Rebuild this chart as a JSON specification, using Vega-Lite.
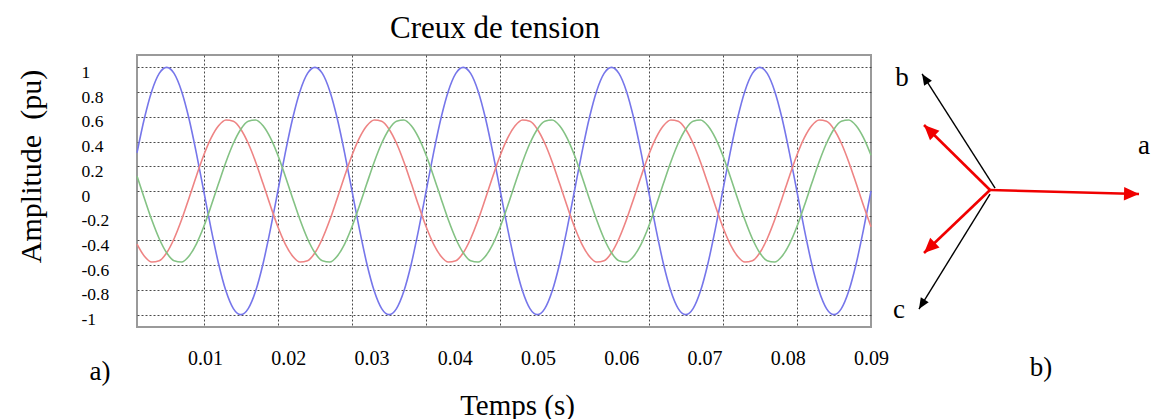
{
  "$schema": "https://vega.github.io/schema/vega-lite/v6.json",
  "background": "white",
  "padding": {"left": 14, "top": 12, "right": 0, "bottom": 0},
  "bounds": "flush",
  "spacing": 11,
  "config": {
    "view": {"stroke": null},
    "font": "Liberation Serif",
    "text": {"font": "Liberation Serif", "color": "black"}
  },
  "hconcat": [
    {
      "width": 734,
      "height": 272,
      "view": {"stroke": "#9a9a9a", "strokeWidth": 2},
      "title": {
        "text": "Creux de tension",
        "font": "Liberation Serif",
        "fontSize": 31,
        "fontWeight": "normal",
        "color": "black",
        "anchor": "middle",
        "baseline": "alphabetic",
        "offset": -14,
        "dx": -9
      },
      "layer": [
        {
          "data": {
            "values": [
              {"t": 0.001, "a": 0.309, "b": -0.429, "c": 0.12},
              {"t": 0.002, "a": 0.588, "b": -0.527, "c": -0.06},
              {"t": 0.003, "a": 0.809, "b": -0.574, "c": -0.235},
              {"t": 0.004, "a": 0.951, "b": -0.564, "c": -0.386},
              {"t": 0.005, "a": 1, "b": -0.5, "c": -0.5},
              {"t": 0.006, "a": 0.951, "b": -0.386, "c": -0.564},
              {"t": 0.007, "a": 0.809, "b": -0.235, "c": -0.574},
              {"t": 0.008, "a": 0.588, "b": -0.06, "c": -0.527},
              {"t": 0.009, "a": 0.309, "b": 0.12, "c": -0.429},
              {"t": 0.010, "a": 0, "b": 0.289, "c": -0.289},
              {"t": 0.011, "a": -0.309, "b": 0.429, "c": -0.12},
              {"t": 0.012, "a": -0.588, "b": 0.527, "c": 0.06},
              {"t": 0.013, "a": -0.809, "b": 0.574, "c": 0.235},
              {"t": 0.014, "a": -0.951, "b": 0.564, "c": 0.386},
              {"t": 0.015, "a": -1, "b": 0.5, "c": 0.5},
              {"t": 0.016, "a": -0.951, "b": 0.386, "c": 0.564},
              {"t": 0.017, "a": -0.809, "b": 0.235, "c": 0.574},
              {"t": 0.018, "a": -0.588, "b": 0.06, "c": 0.527},
              {"t": 0.019, "a": -0.309, "b": -0.12, "c": 0.429},
              {"t": 0.020, "a": 0, "b": -0.289, "c": 0.289},
              {"t": 0.021, "a": 0.309, "b": -0.429, "c": 0.12},
              {"t": 0.022, "a": 0.588, "b": -0.527, "c": -0.06},
              {"t": 0.023, "a": 0.809, "b": -0.574, "c": -0.235},
              {"t": 0.024, "a": 0.951, "b": -0.564, "c": -0.386},
              {"t": 0.025, "a": 1, "b": -0.5, "c": -0.5},
              {"t": 0.026, "a": 0.951, "b": -0.386, "c": -0.564},
              {"t": 0.027, "a": 0.809, "b": -0.235, "c": -0.574},
              {"t": 0.028, "a": 0.588, "b": -0.06, "c": -0.527},
              {"t": 0.029, "a": 0.309, "b": 0.12, "c": -0.429},
              {"t": 0.030, "a": 0, "b": 0.289, "c": -0.289},
              {"t": 0.031, "a": -0.309, "b": 0.429, "c": -0.12},
              {"t": 0.032, "a": -0.588, "b": 0.527, "c": 0.06},
              {"t": 0.033, "a": -0.809, "b": 0.574, "c": 0.235},
              {"t": 0.034, "a": -0.951, "b": 0.564, "c": 0.386},
              {"t": 0.035, "a": -1, "b": 0.5, "c": 0.5},
              {"t": 0.036, "a": -0.951, "b": 0.386, "c": 0.564},
              {"t": 0.037, "a": -0.809, "b": 0.235, "c": 0.574},
              {"t": 0.038, "a": -0.588, "b": 0.06, "c": 0.527},
              {"t": 0.039, "a": -0.309, "b": -0.12, "c": 0.429},
              {"t": 0.040, "a": 0, "b": -0.289, "c": 0.289},
              {"t": 0.041, "a": 0.309, "b": -0.429, "c": 0.12},
              {"t": 0.042, "a": 0.588, "b": -0.527, "c": -0.06},
              {"t": 0.043, "a": 0.809, "b": -0.574, "c": -0.235},
              {"t": 0.044, "a": 0.951, "b": -0.564, "c": -0.386},
              {"t": 0.045, "a": 1, "b": -0.5, "c": -0.5},
              {"t": 0.046, "a": 0.951, "b": -0.386, "c": -0.564},
              {"t": 0.047, "a": 0.809, "b": -0.235, "c": -0.574},
              {"t": 0.048, "a": 0.588, "b": -0.06, "c": -0.527},
              {"t": 0.049, "a": 0.309, "b": 0.12, "c": -0.429},
              {"t": 0.050, "a": 0, "b": 0.289, "c": -0.289},
              {"t": 0.051, "a": -0.309, "b": 0.429, "c": -0.12},
              {"t": 0.052, "a": -0.588, "b": 0.527, "c": 0.06},
              {"t": 0.053, "a": -0.809, "b": 0.574, "c": 0.235},
              {"t": 0.054, "a": -0.951, "b": 0.564, "c": 0.386},
              {"t": 0.055, "a": -1, "b": 0.5, "c": 0.5},
              {"t": 0.056, "a": -0.951, "b": 0.386, "c": 0.564},
              {"t": 0.057, "a": -0.809, "b": 0.235, "c": 0.574},
              {"t": 0.058, "a": -0.588, "b": 0.06, "c": 0.527},
              {"t": 0.059, "a": -0.309, "b": -0.12, "c": 0.429},
              {"t": 0.060, "a": 0, "b": -0.289, "c": 0.289},
              {"t": 0.061, "a": 0.309, "b": -0.429, "c": 0.12},
              {"t": 0.062, "a": 0.588, "b": -0.527, "c": -0.06},
              {"t": 0.063, "a": 0.809, "b": -0.574, "c": -0.235},
              {"t": 0.064, "a": 0.951, "b": -0.564, "c": -0.386},
              {"t": 0.065, "a": 1, "b": -0.5, "c": -0.5},
              {"t": 0.066, "a": 0.951, "b": -0.386, "c": -0.564},
              {"t": 0.067, "a": 0.809, "b": -0.235, "c": -0.574},
              {"t": 0.068, "a": 0.588, "b": -0.06, "c": -0.527},
              {"t": 0.069, "a": 0.309, "b": 0.12, "c": -0.429},
              {"t": 0.070, "a": 0, "b": 0.289, "c": -0.289},
              {"t": 0.071, "a": -0.309, "b": 0.429, "c": -0.12},
              {"t": 0.072, "a": -0.588, "b": 0.527, "c": 0.06},
              {"t": 0.073, "a": -0.809, "b": 0.574, "c": 0.235},
              {"t": 0.074, "a": -0.951, "b": 0.564, "c": 0.386},
              {"t": 0.075, "a": -1, "b": 0.5, "c": 0.5},
              {"t": 0.076, "a": -0.951, "b": 0.386, "c": 0.564},
              {"t": 0.077, "a": -0.809, "b": 0.235, "c": 0.574},
              {"t": 0.078, "a": -0.588, "b": 0.06, "c": 0.527},
              {"t": 0.079, "a": -0.309, "b": -0.12, "c": 0.429},
              {"t": 0.080, "a": 0, "b": -0.289, "c": 0.289},
              {"t": 0.081, "a": 0.309, "b": -0.429, "c": 0.12},
              {"t": 0.082, "a": 0.588, "b": -0.527, "c": -0.06},
              {"t": 0.083, "a": 0.809, "b": -0.574, "c": -0.235},
              {"t": 0.084, "a": 0.951, "b": -0.564, "c": -0.386},
              {"t": 0.085, "a": 1, "b": -0.5, "c": -0.5},
              {"t": 0.086, "a": 0.951, "b": -0.386, "c": -0.564},
              {"t": 0.087, "a": 0.809, "b": -0.235, "c": -0.574},
              {"t": 0.088, "a": 0.588, "b": -0.06, "c": -0.527},
              {"t": 0.089, "a": 0.309, "b": 0.12, "c": -0.429},
              {"t": 0.090, "a": 0, "b": 0.289, "c": -0.289},
              {"t": 0.091, "a": -0.309, "b": 0.429, "c": -0.12},
              {"t": 0.092, "a": -0.588, "b": 0.527, "c": 0.06},
              {"t": 0.093, "a": -0.809, "b": 0.574, "c": 0.235},
              {"t": 0.094, "a": -0.951, "b": 0.564, "c": 0.386},
              {"t": 0.095, "a": -1, "b": 0.5, "c": 0.5},
              {"t": 0.096, "a": -0.951, "b": 0.386, "c": 0.564},
              {"t": 0.097, "a": -0.809, "b": 0.235, "c": 0.574},
              {"t": 0.098, "a": -0.588, "b": 0.06, "c": 0.527},
              {"t": 0.099, "a": -0.309, "b": -0.12, "c": 0.429},
              {"t": 0.100, "a": 0, "b": -0.289, "c": 0.289}
            ]
          },
          "transform": [{"fold": ["a", "b", "c"], "as": ["phase", "v"]}],
          "mark": {"type": "line", "strokeWidth": 1.6, "interpolate": "monotone"},
          "encoding": {
            "x": {
              "field": "t",
              "type": "quantitative",
              "scale": {"domain": [0.001, 0.1], "nice": false, "zero": false},
              "axis": {
                "values": [0.01, 0.02, 0.03, 0.04, 0.05, 0.06, 0.07, 0.08, 0.09],
                "tickCount": 30,
                "format": ".2f",
                "title": "Temps (s)",
                "titleFont": "Liberation Serif",
                "titleFontSize": 29,
                "titleFontWeight": "normal",
                "titleColor": "black",
                "titleX": 380,
                "titleY": 87,
                "titleBaseline": "alphabetic",
                "titleAlign": "center",
                "labelFont": "Liberation Serif",
                "labelFontSize": 20,
                "labelColor": "black",
                "labelBaseline": "alphabetic",
                "labelPadding": 37,
                "labelOffset": {"expr": "911 * datum.value - 7.8"},
                "labelFlush": false,
                "labelOverlap": false,
                "ticks": false,
                "tickSize": 0,
                "domain": false,
                "grid": true,
                "gridColor": "#4a4a4a",
                "gridDash": [2, 2],
                "gridWidth": 1
              }
            },
            "y": {
              "field": "v",
              "type": "quantitative",
              "scale": {"domain": [-1.1, 1.1], "nice": false, "zero": false},
              "axis": {
                "values": [-1, -0.8, -0.6, -0.4, -0.2, 0, 0.2, 0.4, 0.6, 0.8, 1],
                "tickCount": 30,
                "format": "~g",
                "labelExpr": "replace(datum.label, '−', '-')",
                "title": "Amplitude\u00a0 (pu)",
                "titleFont": "Liberation Serif",
                "titleFontSize": 30,
                "titleFontWeight": "normal",
                "titleColor": "black",
                "titleX": -97,
                "titleY": 111,
                "titleBaseline": "alphabetic",
                "titleAlign": "center",
                "labelFont": "Liberation Serif",
                "labelFontSize": 17.5,
                "labelColor": "black",
                "labelAlign": "left",
                "labelBaseline": "middle",
                "labelPadding": 56,
                "labelOffset": 5,
                "labelFlush": false,
                "labelOverlap": false,
                "ticks": false,
                "tickSize": 0,
                "domain": false,
                "grid": true,
                "gridColor": "#4a4a4a",
                "gridDash": [2, 2],
                "gridWidth": 1
              }
            },
            "color": {
              "field": "phase",
              "type": "nominal",
              "scale": {"domain": ["a", "b", "c"], "range": ["#7676ea", "#ee8484", "#84c284"]},
              "legend": null
            }
          }
        },
        {
          "data": {"values": [{"label": "a)"}]},
          "mark": {"type": "text", "font": "Liberation Serif", "fontSize": 27, "align": "center", "baseline": "alphabetic", "color": "black"},
          "encoding": {
            "x": {"datum": -0.004, "type": "quantitative"},
            "y": {"datum": -1.526, "type": "quantitative"},
            "text": {"field": "label"}
          }
        }
      ]
    },
    {
      "width": 274,
      "height": 346,
      "data": {
        "values": [
          {"phasor": "a", "kind": "creux", "x0": 0, "y0": 0, "x": 1.0, "y": -0.027, "phase": -1.5},
          {"phasor": "b", "kind": "creux", "x0": 0, "y0": 0, "x": -0.443, "y": 0.436, "phase": 135.5},
          {"phasor": "c", "kind": "creux", "x0": 0, "y0": 0, "x": -0.443, "y": -0.423, "phase": -136.3},
          {"phasor": "b", "kind": "nominal", "x0": 0.034, "y0": 0.013, "x": -0.456, "y": 0.779, "phase": 122.6},
          {"phasor": "c", "kind": "nominal", "x0": 0, "y0": -0.027, "x": -0.477, "y": -0.799, "phase": -121.7}
        ]
      },
      "layer": [
        {
          "transform": [{"filter": "datum.kind === 'nominal'"}],
          "mark": {"type": "rule", "color": "black", "strokeWidth": 1.4},
          "encoding": {
            "x": {"field": "x0", "type": "quantitative", "scale": {"domain": [-0.725, 1.114], "nice": false, "zero": false}, "axis": null},
            "y": {"field": "y0", "type": "quantitative", "scale": {"domain": [-1.416, 0.906], "nice": false, "zero": false}, "axis": null},
            "x2": {"field": "x"},
            "y2": {"field": "y"}
          }
        },
        {
          "transform": [{"filter": "datum.kind === 'nominal'"}],
          "mark": {"type": "point", "shape": "M0,0L-0.42,1L0.42,1Z", "filled": true, "color": "black", "opacity": 1, "size": 484, "strokeWidth": 0},
          "encoding": {
            "x": {"field": "x", "type": "quantitative", "scale": {"domain": [-0.725, 1.114], "nice": false, "zero": false}, "axis": null},
            "y": {"field": "y", "type": "quantitative", "scale": {"domain": [-1.416, 0.906], "nice": false, "zero": false}, "axis": null},
            "angle": {"field": "phase", "type": "quantitative", "scale": {"domain": [-180, 180], "range": [270, -90]}}
          }
        },
        {
          "transform": [{"filter": "datum.kind === 'creux'"}],
          "mark": {"type": "rule", "color": "#f00000", "strokeWidth": 2.6},
          "encoding": {
            "x": {"field": "x0", "type": "quantitative", "scale": {"domain": [-0.725, 1.114], "nice": false, "zero": false}, "axis": null},
            "y": {"field": "y0", "type": "quantitative", "scale": {"domain": [-1.416, 0.906], "nice": false, "zero": false}, "axis": null},
            "x2": {"field": "x"},
            "y2": {"field": "y"}
          }
        },
        {
          "transform": [{"filter": "datum.kind === 'creux'"}],
          "mark": {"type": "point", "shape": "M0,0L-0.45,1L0.45,1Z", "filled": true, "color": "#f00000", "opacity": 1, "size": 900, "strokeWidth": 0},
          "encoding": {
            "x": {"field": "x", "type": "quantitative", "scale": {"domain": [-0.725, 1.114], "nice": false, "zero": false}, "axis": null},
            "y": {"field": "y", "type": "quantitative", "scale": {"domain": [-1.416, 0.906], "nice": false, "zero": false}, "axis": null},
            "angle": {"field": "phase", "type": "quantitative", "scale": {"domain": [-180, 180], "range": [270, -90]}}
          }
        },
        {
          "data": {
            "values": [
              {"label": "a", "lx": 1.034, "ly": 0.242},
              {"label": "b", "lx": -0.591, "ly": 0.698},
              {"label": "c", "lx": -0.611, "ly": -0.859},
              {"label": "b)", "lx": 0.342, "ly": -1.248}
            ]
          },
          "mark": {"type": "text", "font": "Liberation Serif", "fontSize": 27, "align": "center", "baseline": "alphabetic", "color": "black"},
          "encoding": {
            "x": {"field": "lx", "type": "quantitative", "scale": {"domain": [-0.725, 1.114], "nice": false, "zero": false}, "axis": null},
            "y": {"field": "ly", "type": "quantitative", "scale": {"domain": [-1.416, 0.906], "nice": false, "zero": false}, "axis": null},
            "text": {"field": "label"}
          }
        }
      ]
    }
  ]
}
